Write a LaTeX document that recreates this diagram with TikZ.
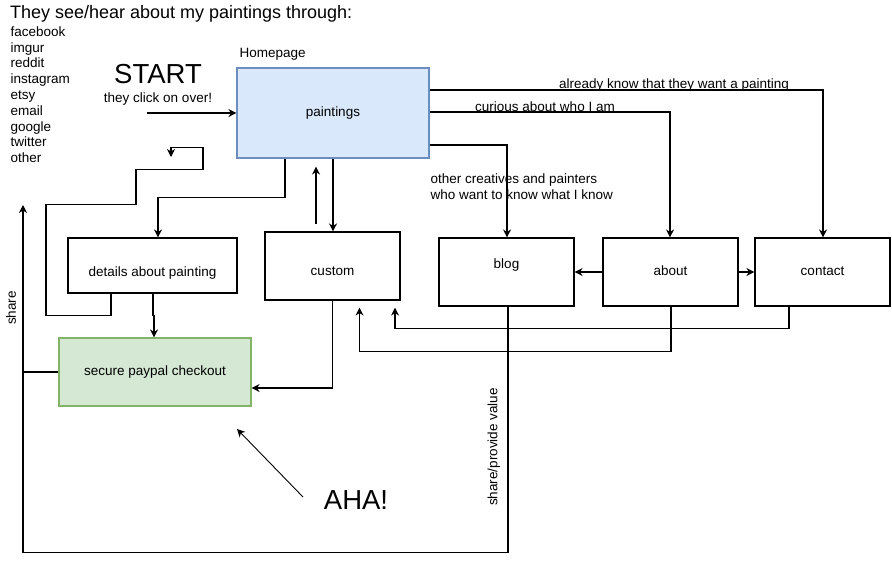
\documentclass[tikz,border=0pt]{standalone}
\usepackage{fontspec}
\setmainfont{Liberation Sans}
\usetikzlibrary{arrows.meta}
\definecolor{bluefill}{HTML}{DAE8FC}
\definecolor{bluedraw}{HTML}{6C8EBF}
\definecolor{greenfill}{HTML}{D5E8D4}
\definecolor{greendraw}{HTML}{82B366}
\newcommand{\bodyf}{\fontsize{13.5}{16}\selectfont}
\newcommand{\shiftt}[2]{\raisebox{#1}[\height][\depth]{#2}}
\begin{document}
\begin{tikzpicture}[x=1pt,y=-1pt,line width=1.1pt,line join=miter,
  box/.style={draw,rectangle,inner sep=0pt,font=\bodyf},
  arr/.style={-{Stealth[length=8pt,width=8pt,inset=2.5pt]}},
  lbl/.style={inner sep=0pt,font=\bodyf}]
\fill[white] (0,0) rectangle (892,581);
\path[use as bounding box] (0,0) rectangle (892,581);

% title and sources
\node[lbl,anchor=west,font=\fontsize{18}{20}\selectfont] (title) at (9.5,14) {They see/hear about my paintings through:};
\node[lbl,anchor=north west,align=left,font=\fontsize{13.5}{15.8}\selectfont] (sources) at (10,26)
  {facebook\\imgur\\reddit\\instagram\\etsy\\email\\google\\twitter\\other};

% start
\node[lbl,font=\fontsize{27.5}{30}\selectfont] (start) at (158,74) {START};
\node[lbl] (click) at (158,99) {they click on over!};
\coordinate (startpt) at (147,113);

% boxes
\node[box,fill=bluefill,draw=bluedraw,minimum width=192pt,minimum height=90pt] (paintings) at (333,113) {paintings};
\node[lbl,anchor=west] (home) at (239,54) {Homepage};
\node[box,minimum width=169pt,minimum height=55pt] (details) at (152.5,265.5) {\shiftt{-8pt}{details about painting}};
\node[box,minimum width=135pt,minimum height=68pt] (custom) at (332.5,266) {\shiftt{-5.5pt}{custom}};
\node[box,fill=greenfill,draw=greendraw,minimum width=192pt,minimum height=68pt] (paypal) at (155,372) {secure paypal checkout};
\node[box,minimum width=135pt,minimum height=68pt] (blog) at (506.5,272) {\shiftt{7pt}{blog}};
\node[box,minimum width=135pt,minimum height=68pt] (about) at (670.5,272) {\shiftt{1pt}{about}};
\node[box,minimum width=135pt,minimum height=68pt] (contact) at (822.5,272) {\shiftt{0.5pt}{contact}};

% labels
\node[lbl] (l1) at (674,85) {already know that they want a painting};
\node[lbl] (l2) at (545,107) {curious about who I am};
\node[lbl,anchor=north west,align=left,font=\fontsize{13.5}{16.5}\selectfont] (l3) at (430,173) {other creatives and painters\\who want to know what I know};
\node[lbl,rotate=90] (sharelbl) at (11,308) {share};
\node[lbl,rotate=90] (spv) at (494,447) {share/provide value};
\node[lbl,font=\fontsize{27.5}{30}\selectfont] (aha) at (356,500) {AHA!};

\coordinate (loopend) at (171,157);
\coordinate (shareend) at (23,205);
\coordinate (ahastart) at (303,497);
\coordinate (ahaend) at (237,429);

% connectors
\draw[arr] (startpt) -- (paintings.west);
\draw[arr] ([yshift=23pt]paintings.east) -| ([xshift=0.5pt]contact.north);
\draw[arr] ([yshift=1pt]paintings.east) -| ([xshift=-0.5pt]about.north);
\draw[arr] ([yshift=-32pt]paintings.east) -| ([xshift=0.5pt]blog.north);
\draw[arr] (about.west) -- (blog.east);
\draw[arr] (about.east) -- (contact.west);
\draw[arr] ([xshift=-48pt]paintings.south) -- ++(0,39) -| ([xshift=5.5pt]details.north);
\draw[arr] (paintings.south) -- (paintings.south |- custom.north);
\draw[arr] ([xshift=-16.5pt,yshift=7pt]custom.north) -- ([xshift=-17pt,yshift=-8pt]paintings.south);
\draw[arr] ([xshift=0.5pt]details.south) -- ++(0,22) -| ([xshift=-1pt]paypal.north);
\draw[arr] ([xshift=-41.5pt]details.south) -- ++(0,22) -- ++(-65,0) -- ++(0,-111) -- ++(90,0)
  -- ++(0,-35) -- ++(67,0) -- ++(0,-22) -| (loopend);
\draw[arr] (custom.south) |- ([yshift=-16pt]paypal.east);
\draw[arr] ([xshift=-33.5pt]contact.south) -- ++(0,22) -| ([xshift=62.5pt,yshift=-7pt]custom.south);
\draw[arr] ([xshift=0.5pt]about.south) -- ++(0,45) -| ([xshift=27pt,yshift=-7pt]custom.south);
\draw[arr] ([xshift=1.5pt]blog.south) -- ++(0,246) -| (shareend);
\draw (paypal.west) -- (shareend |- paypal.west);
\draw[arr,line width=0.9pt] (ahastart) -- (ahaend);
\end{tikzpicture}
\end{document}
